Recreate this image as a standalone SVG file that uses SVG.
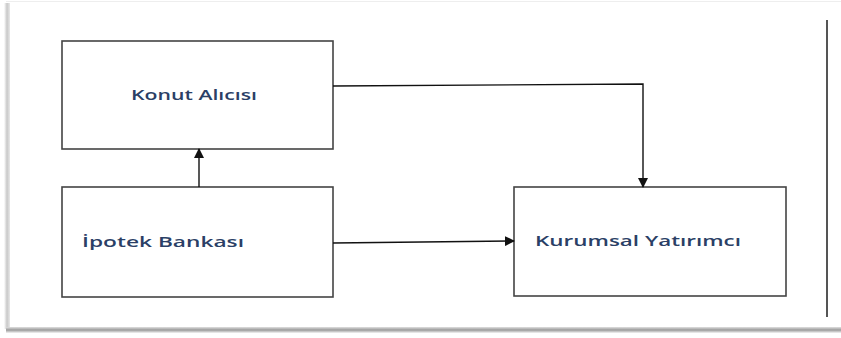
<svg xmlns="http://www.w3.org/2000/svg" width="841" height="338" viewBox="0 0 841 338">
<defs>
<marker id="ah" markerWidth="10" markerHeight="10" refX="9" refY="5" orient="auto" markerUnits="userSpaceOnUse">
<path d="M0,0 L10,5 L0,10 Z" fill="#111"/>
</marker>
<linearGradient id="shL" x1="0" x2="1" y1="0" y2="0">
<stop offset="0" stop-color="#fff"/>
<stop offset="0.5" stop-color="#c8c8c8"/>
<stop offset="1" stop-color="#e8e8e8"/>
</linearGradient>
<linearGradient id="shB" x1="0" x2="0" y1="0" y2="1">
<stop offset="0" stop-color="#e0e0e0"/>
<stop offset="0.5" stop-color="#9a9a9a"/>
<stop offset="1" stop-color="#f4f4f4"/>
</linearGradient>
</defs>
<style>
.box{fill:#fff;stroke:#444;stroke-width:1.6}
.lbl{font-family:"Open Sans","Liberation Sans",sans-serif;font-size:14.5px;font-weight:600;fill:#2b3f66}
.con{fill:none;stroke:#111;stroke-width:1.4}
</style>
<rect width="841" height="338" fill="#fff"/>
<g id="frame">
<line x1="6" y1="1.5" x2="841" y2="1.5" stroke="#eee" stroke-width="1"/>
<rect x="4" y="3" width="6" height="326" fill="url(#shL)"/>
<rect x="6" y="327" width="835" height="6" fill="url(#shB)"/>
<line x1="827" y1="20" x2="827" y2="317" stroke="#555" stroke-width="2"/>
</g>
<g id="konut">
<rect class="box" x="62" y="41" width="271" height="108"/>
<text class="lbl" x="131" y="100" textLength="126" lengthAdjust="spacingAndGlyphs">Konut Alıcısı</text>
</g>
<g id="ipotek">
<rect class="box" x="62" y="187" width="271" height="110"/>
<text class="lbl" x="82" y="247" textLength="162" lengthAdjust="spacingAndGlyphs">İpotek Bankası</text>
</g>
<g id="kurumsal">
<rect class="box" x="514" y="187" width="272" height="109"/>
<text class="lbl" x="535" y="246" textLength="206" lengthAdjust="spacingAndGlyphs">Kurumsal Yatırımcı</text>
</g>
<g id="connectors">
<path class="con" d="M333,86 L643,84 L643,187" marker-end="url(#ah)"/>
<path class="con" d="M333,243 L514,241" marker-end="url(#ah)"/>
<path class="con" d="M199,187 L199,149" stroke-width="2" marker-end="url(#ah)"/>
</g>
</svg>
